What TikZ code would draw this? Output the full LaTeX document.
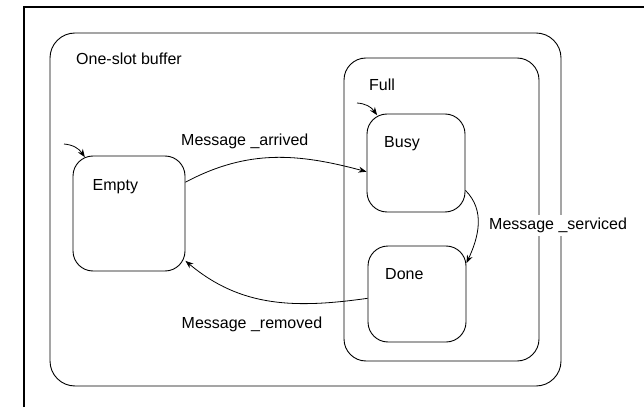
\documentclass[tikz,border=0pt]{standalone}
\usepackage{fontspec}
\setmainfont{Liberation Sans}
\usetikzlibrary{arrows.meta}
\begin{document}
\begin{tikzpicture}[x=1pt,y=1pt,
  box/.style={draw, line width=0.9pt, inner sep=0pt},
  lbl/.style={anchor=base west, inner sep=0pt, font=\fontsize{16}{19}\selectfont},
  trans/.style={line width=0.8pt, -{Stealth[length=8pt,width=6pt]}},
]
\useasboundingbox (0,0) rectangle (644,407);
% outer frame (cropped)
\draw[line width=1.4pt] (24,0) -- (24,400) -- (644,400);
% containers
\node[box, rounded corners=25pt, minimum width=511pt, minimum height=353pt] (buffer) at (305.5,197.5) {};
\node[box, rounded corners=22pt, minimum width=195pt, minimum height=303pt] (full) at (441.5,197.5) {};
% states
\node[box, rounded corners=20pt, minimum width=112pt, minimum height=115pt] (empty) at (129,193.5) {};
\node[box, rounded corners=20pt, minimum width=98pt, minimum height=98pt] (busy) at (416,244) {};
\node[box, rounded corners=20pt, minimum width=98pt, minimum height=96pt] (done) at (417,113) {};
% texts
\node[lbl] (tbuffer) at (76,342) {One-slot buffer};
\node[lbl] (tfull) at (369,316) {Full};
\node[lbl] (tbusy) at (384,259) {Busy};
\node[lbl] (tempty) at (92.5,216) {Empty};
\node[lbl] (tdone) at (385,128) {Done};
\node[lbl] (tarr) at (181,261) {Message \_arrived};
\node[lbl, fill=white, inner ysep=3pt] (tser) at (489,177) {Message \_serviced};
\node[lbl] (trem) at (181.5,79) {Message \_removed};
% initial pseudo-states
\coordinate (i1) at (64,263);
\coordinate (i2) at (357,304);
\draw[trans, shorten >=-2pt] (i1) to[bend left=25] (empty.128);
\draw[trans, shorten >=-2pt] (i2) to[bend left=25] (busy.129);
% transitions
\draw[trans] (empty.29) to[out=28,in=165] (busy.190);
\draw[trans] (busy.-29) to[out=-45,in=65] (done.32);
\draw[trans] (done.185) to[out=188,in=-40] (empty.-40);
\end{tikzpicture}
\end{document}
